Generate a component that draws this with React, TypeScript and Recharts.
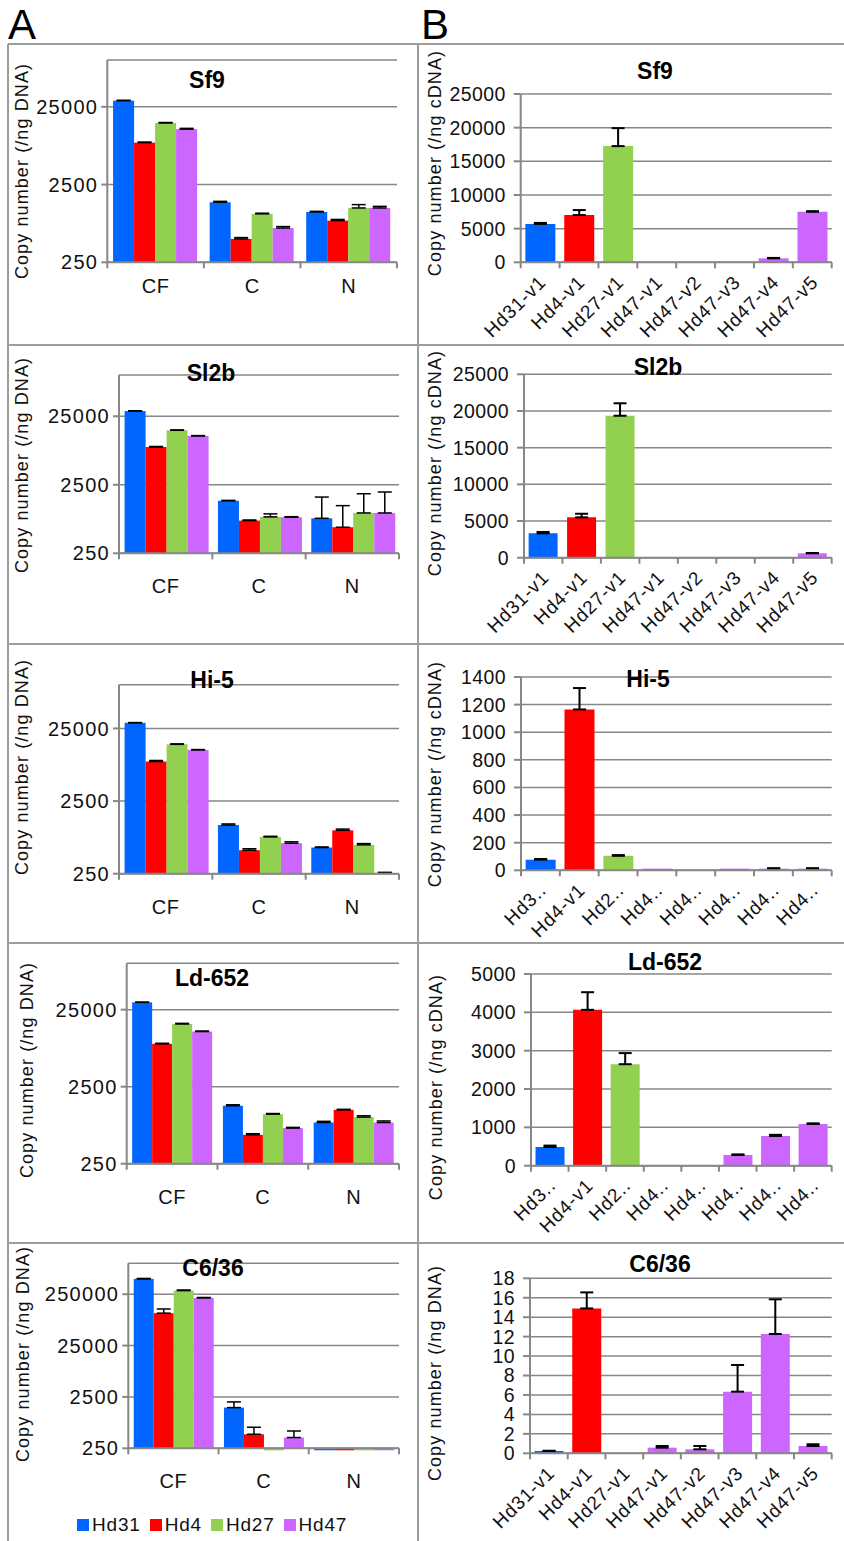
import { Bar, BarChart, CartesianGrid, Cell, ErrorBar, XAxis, YAxis } from "recharts";

/* Ten-panel copy-number figure: column A is genomic DNA on a log axis (per
   cell fraction), column B is transcript copies per ng cDNA (linear). */

const FONT = 'Arial, "Liberation Sans", Helvetica, sans-serif';
const INK = "#111";
const GREY = "#878787";
const FRAME = "#9c9c9c";
const COLORS = ["#0066FF", "#FF0000", "#92D050", "#CC66FF"];

// ---- A: copies per ng DNA, log axis ----
const COMPARTMENTS = ["CF", "C", "N"];
const VIRUSES = ["Hd31", "Hd4", "Hd27", "Hd47"];
const FLOOR = 250; // log axis starts here; anything under it is drawn as a sliver
const LOG_TICKS = [250, 2500, 25000];
const LOG_TICKS_WIDE = [250, 2500, 25000, 250000];

// rows: Hd31, Hd4, Hd27, Hd47 — columns: CF, C, N
const sf9Dna = [[30000, 1480, 1110], [8650, 500, 860], [15500, 1050, 1250], [12900, 690, 1250]];
const sf9DnaErr = [[300, 40, 20], [150, 20, 30], [200, 20, 130], [300, 30, 60]];
const sl2bDna = [[29800, 1460, 810], [8900, 750, 600], [15600, 850, 970], [12900, 840, 970]];
const sl2bDnaErr = [[300, 20, 845], [150, 15, 640], [200, 90, 880], [150, 15, 990]];
const hi5Dna = [[29900, 1170, 573], [8750, 526, 989], [15100, 803, 624], [12650, 657, 256]];
const hi5DnaErr = [[200, 40, 10], [300, 25, 40], [200, 15, 25], [150, 30, 5]];
const ld652Dna = [[31100, 1415, 857], [9000, 593, 1250], [16300, 1100, 1007], [13000, 725, 857]];
const ld652DnaErr = [[200, 40, 30], [150, 20, 20], [300, 20, 40], [200, 15, 40]];
const c636Dna = [[497000, 1550, 240], [107000, 469, 240], [294000, 240, 240], [212000, 405, 240]];
const c636DnaErr = [[10000, 450, 0], [22000, 173, 0], [8000, 0, 0], [4000, 138, 0]];

// ---- B: copies per ng cDNA, linear axis ----
const TRANSCRIPTS = ["Hd31-v1", "Hd4-v1", "Hd27-v1", "Hd47-v1", "Hd47-v2", "Hd47-v3", "Hd47-v4", "Hd47-v5"];
const TRANSCRIPTS_CUT = ["Hd3..", "Hd4-v1", "Hd2..", "Hd4..", "Hd4..", "Hd4..", "Hd4..", "Hd4.."];
const TRANSCRIPT_VIRUS = [0, 1, 2, 3, 3, 3, 3, 3];

const sf9Rna = [5690, 7020, 17260, 0, 0, 0, 590, 7510];
const sf9RnaErr = [160, 740, 2670, 0, 0, 0, 60, 80];
const sl2bRna = [3320, 5500, 19350, 0, 0, 0, 0, 600];
const sl2bRnaErr = [180, 490, 1700, 0, 0, 0, 0, 40];
const hi5Rna = [77, 1165, 105, 12, 0, 12, 12, 12];
const hi5RnaErr = [5, 155, 5, 0, 0, 0, 3, 3];
const ld652Rna = [488, 4065, 2647, 0, 0, 280, 775, 1089];
const ld652RnaErr = [37, 460, 290, 0, 0, 15, 30, 15];
const c636Rna = [0.24, 14.9, 0, 0.58, 0.41, 6.34, 12.27, 0.75];
const c636RnaErr = [0.02, 1.65, 0, 0.17, 0.34, 2.74, 3.57, 0.18];

const TICKS_25K = [0, 5000, 10000, 15000, 20000, 25000];
const TICKS_1400 = [0, 200, 400, 600, 800, 1000, 1200, 1400];
const TICKS_5K = [0, 1000, 2000, 3000, 4000, 5000];
const TICKS_18 = [0, 2, 4, 6, 8, 10, 12, 14, 16, 18];

// ---- page layout ----
const ROW_TOPS = [44, 345, 644, 943, 1243];
const PAGE_H = 1541;
const COL_A = { x: 8, w: 410 };
const COL_B = { x: 418, w: 426 };

type Box = { l: number; t: number; r: number; b: number };

const DNA_PANELS = [
  { title: "Sf9", vals: sf9Dna, errs: sf9DnaErr, top: 100000, ticks: LOG_TICKS, plot: { l: 107.3, t: 60, r: 397, b: 262.3 }, titleAt: [207, 80], ylab: [22, 171], catDy: 31 },
  { title: "Sl2b", vals: sl2bDna, errs: sl2bDnaErr, top: 100000, ticks: LOG_TICKS, plot: { l: 119, t: 375, r: 399, b: 553.3 }, titleAt: [211, 373], ylab: [22, 465], catDy: 40 },
  { title: "Hi-5", vals: hi5Dna, errs: hi5DnaErr, top: 100000, ticks: LOG_TICKS, plot: { l: 119, t: 684.7, r: 399, b: 873.7 }, titleAt: [212, 680], ylab: [22, 767], catDy: 40 },
  { title: "Ld-652", vals: ld652Dna, errs: ld652DnaErr, top: 100000, ticks: LOG_TICKS, plot: { l: 126.7, t: 963.3, r: 399, b: 1163.7 }, titleAt: [212, 978], ylab: [27, 1070], catDy: 40 },
  { title: "C6/36", vals: c636Dna, errs: c636DnaErr, top: 1000000, ticks: LOG_TICKS_WIDE, plot: { l: 128.3, t: 1263.3, r: 399, b: 1448.3 }, titleAt: [213, 1268], ylab: [23, 1354], catDy: 40 },
];

const RNA_PANELS = [
  { title: "Sf9", vals: sf9Rna, errs: sf9RnaErr, ticks: TICKS_25K, names: TRANSCRIPTS, ylabel: "Copy number (/ng cDNA)", plot: { l: 520.7, t: 94, r: 831.7, b: 262.3 }, titleAt: [655, 71], ylab: [435, 163] },
  { title: "Sl2b", vals: sl2bRna, errs: sl2bRnaErr, ticks: TICKS_25K, names: TRANSCRIPTS, ylabel: "Copy number (/ng cDNA)", plot: { l: 524, t: 374.3, r: 831.7, b: 557.7 }, titleAt: [658, 367], ylab: [435, 463] },
  { title: "Hi-5", vals: hi5Rna, errs: hi5RnaErr, ticks: TICKS_1400, names: TRANSCRIPTS_CUT, ylabel: "Copy number (/ng cDNA)", plot: { l: 521, t: 677, r: 831.7, b: 870.3 }, titleAt: [648, 679], ylab: [435, 774] },
  { title: "Ld-652", vals: ld652Rna, errs: ld652RnaErr, ticks: TICKS_5K, names: TRANSCRIPTS_CUT, ylabel: "Copy number (/ng cDNA)", plot: { l: 531, t: 974, r: 831.7, b: 1165.7 }, titleAt: [665, 962], ylab: [436, 1087] },
  { title: "C6/36", vals: c636Rna, errs: c636RnaErr, ticks: TICKS_18, names: TRANSCRIPTS, ylabel: "Copy number (/ng DNA)", plot: { l: 530, t: 1278.3, r: 831.7, b: 1453.3 }, titleAt: [660, 1264], ylab: [435, 1373] },
];

const rowHeight = (i: number) => (i + 1 < ROW_TOPS.length ? ROW_TOPS[i + 1] : PAGE_H) - ROW_TOPS[i];

// Excel puts the category ticks on the band edges, not the centres
function makeCatTick(axisY: number, band: number, n: number, rotate: boolean, dy: number) {
  return function CatTick(p: any) {
    const x = p.x as number;
    const i = p.index as number;
    const edge = x - band / 2;
    const ax = x + 7;
    const ay = axisY + 21;
    return (
      <g>
        <line x1={edge} x2={edge} y1={axisY} y2={axisY + 6} stroke={GREY} strokeWidth={2} />
        {i === n - 1 && <line x1={x + band / 2} x2={x + band / 2} y1={axisY} y2={axisY + 6} stroke={GREY} strokeWidth={2} />}
        {rotate ? (
          <text x={ax} y={ay} transform={`rotate(-45 ${ax} ${ay})`} textAnchor="end" fontSize={19} letterSpacing={0.9} fill={INK} fontFamily={FONT}>
            {p.payload.value}
          </text>
        ) : (
          <text x={x} y={axisY + dy} textAnchor="middle" fontSize={20} letterSpacing={0.5} fill={INK} fontFamily={FONT}>
            {p.payload.value}
          </text>
        )}
      </g>
    );
  };
}

// values under the log floor show as a thin sliver under the axis
function sliver(rawKey: string) {
  return function SliverBar(p: any) {
    const raw = p.payload?.[rawKey];
    if (raw < FLOOR) return <rect x={p.x} y={p.y + p.height} width={p.width} height={2} fill={p.fill} />;
    return <rect x={p.x} y={p.y} width={p.width} height={Math.max(p.height, 0)} fill={p.fill} />;
  };
}

function Title({ text, at }: { text: string; at: number[] }) {
  return (
    <div style={{ position: "absolute", left: at[0], top: at[1], transform: "translate(-50%, -50%)", fontSize: 23, fontWeight: 700, fontFamily: FONT, color: "#000", whiteSpace: "nowrap" }}>
      {text}
    </div>
  );
}

function YLabel({ text, at }: { text: string; at: number[] }) {
  return (
    <div style={{ position: "absolute", left: at[0], top: at[1], transform: "translate(-50%, -50%) rotate(-90deg)", fontSize: 18, letterSpacing: 1.1, fontFamily: FONT, color: INK, whiteSpace: "nowrap" }}>
      {text}
    </div>
  );
}

function DnaPanel({ row }: { row: number }) {
  const p = DNA_PANELS[row];
  const cellY = ROW_TOPS[row];
  const cellH = rowHeight(row);
  const plot: Box = p.plot;
  const axisY = plot.b - cellY;
  const band = (plot.r - plot.l) / COMPARTMENTS.length;
  const data = COMPARTMENTS.map((c, j) => {
    const r: Record<string, any> = { cat: c };
    VIRUSES.forEach((_, k) => {
      const v = p.vals[k][j];
      const e = p.errs[k][j];
      r[`s${k}`] = Math.max(v, FLOOR);
      r[`raw${k}`] = v;
      r[`e${k}`] = e > 0 ? [0, e] : 0;
    });
    return r;
  });

  return (
    <>
      <div style={{ position: "absolute", left: COL_A.x, top: cellY }}>
        <BarChart
          width={COL_A.w}
          height={cellH}
          data={data}
          margin={{ top: plot.t - cellY, right: COL_A.x + COL_A.w - plot.r, bottom: 0, left: 0 }}
          barCategoryGap="6%"
          barGap={0}
        >
          <CartesianGrid vertical={false} stroke={GREY} strokeWidth={1.5} />
          <XAxis dataKey="cat" height={cellY + cellH - plot.b} interval={0} axisLine={{ stroke: GREY, strokeWidth: 2 }} tickLine={false} tick={makeCatTick(axisY, band, COMPARTMENTS.length, false, p.catDy)} />
          <YAxis
            width={plot.l - COL_A.x}
            scale="log"
            type="number"
            domain={[FLOOR, p.top]}
            ticks={p.ticks}
            interval={0}
            axisLine={{ stroke: GREY, strokeWidth: 2 }}
            tickLine={{ stroke: GREY, strokeWidth: 2 }}
            tickSize={6}
            tickMargin={3}
            tick={{ fontSize: 20, fill: INK, fontFamily: FONT, letterSpacing: 1.3 }}
          />
          {VIRUSES.map((v, k) => (
            <Bar key={v} dataKey={`s${k}`} name={v} fill={COLORS[k]} isAnimationActive={false} shape={sliver(`raw${k}`)}>
              <ErrorBar dataKey={`e${k}`} width={7} strokeWidth={1.5} stroke="#000" direction="y" />
            </Bar>
          ))}
        </BarChart>
      </div>
      <Title text={p.title} at={p.titleAt} />
      <YLabel text="Copy number (/ng DNA)" at={p.ylab} />
    </>
  );
}

function RnaPanel({ row }: { row: number }) {
  const p = RNA_PANELS[row];
  const cellY = ROW_TOPS[row];
  const cellH = rowHeight(row);
  const plot: Box = p.plot;
  const axisY = plot.b - cellY;
  const band = (plot.r - plot.l) / TRANSCRIPTS.length;
  const data = TRANSCRIPTS.map((_, i) => ({ name: p.names[i], v: p.vals[i], e: p.errs[i] > 0 ? [0, p.errs[i]] : 0 }));
  const top = p.ticks[p.ticks.length - 1];

  return (
    <>
      <div style={{ position: "absolute", left: COL_B.x, top: cellY }}>
        <BarChart
          width={COL_B.w}
          height={cellH}
          data={data}
          margin={{ top: plot.t - cellY, right: COL_B.x + COL_B.w - plot.r, bottom: 0, left: 0 }}
          barCategoryGap="12%"
        >
          <CartesianGrid vertical={false} stroke={GREY} strokeWidth={1.5} />
          <XAxis dataKey="name" height={cellY + cellH - plot.b} interval={0} axisLine={{ stroke: GREY, strokeWidth: 2 }} tickLine={false} tick={makeCatTick(axisY, band, TRANSCRIPTS.length, true, 0)} />
          <YAxis
            width={plot.l - COL_B.x}
            type="number"
            domain={[0, top]}
            ticks={p.ticks}
            interval={0}
            axisLine={{ stroke: GREY, strokeWidth: 2 }}
            tickLine={{ stroke: GREY, strokeWidth: 2 }}
            tickSize={7}
            tickMargin={8}
            tick={{ fontSize: 19.5, fill: INK, fontFamily: FONT, letterSpacing: 0.4 }}
          />
          <Bar dataKey="v" isAnimationActive={false}>
            {data.map((_, i) => (
              <Cell key={i} fill={COLORS[TRANSCRIPT_VIRUS[i]]} />
            ))}
            <ErrorBar dataKey="e" width={6.5} strokeWidth={2} stroke="#000" direction="y" />
          </Bar>
        </BarChart>
      </div>
      <Title text={p.title} at={p.titleAt} />
      <YLabel text={p.ylabel} at={p.ylab} />
    </>
  );
}

function Frame() {
  const line = (s: React.CSSProperties) => <div style={{ position: "absolute", background: FRAME, ...s }} />;
  return (
    <>
      {ROW_TOPS.map((y) => (
        <div key={y} style={{ position: "absolute", left: COL_A.x, top: y - 1, width: 844 - COL_A.x, height: 2, background: FRAME }} />
      ))}
      {line({ left: COL_A.x - 1, top: ROW_TOPS[0], width: 2, height: PAGE_H - ROW_TOPS[0] })}
      {line({ left: COL_B.x - 1, top: ROW_TOPS[0], width: 2, height: PAGE_H - ROW_TOPS[0] })}
    </>
  );
}

function Legend() {
  return (
    <div style={{ position: "absolute", left: 77, top: 1525, transform: "translateY(-50%)", display: "flex", alignItems: "center", fontFamily: FONT, fontSize: 19, letterSpacing: 0.8, color: INK }}>
      {VIRUSES.map((v, k) => (
        <span key={v} style={{ display: "inline-flex", alignItems: "center", marginRight: 9 }}>
          <span style={{ display: "inline-block", width: 12, height: 12, background: COLORS[k], marginRight: 3 }} />
          {v}
        </span>
      ))}
    </div>
  );
}

export default function App() {
  return (
    <div style={{ position: "absolute", left: 0, top: 0, width: 844, height: PAGE_H, background: "#fff", overflow: "hidden", fontFamily: FONT }}>
      <div style={{ position: "absolute", left: 8, top: 4, fontSize: 42, lineHeight: "42px", fontFamily: FONT }}>A</div>
      <div style={{ position: "absolute", left: 421, top: 4, fontSize: 42, lineHeight: "42px", fontFamily: FONT }}>B</div>
      <Frame />
      {DNA_PANELS.map((_, i) => (
        <DnaPanel key={`a${i}`} row={i} />
      ))}
      {RNA_PANELS.map((_, i) => (
        <RnaPanel key={`b${i}`} row={i} />
      ))}
      <Legend />
    </div>
  );
}
